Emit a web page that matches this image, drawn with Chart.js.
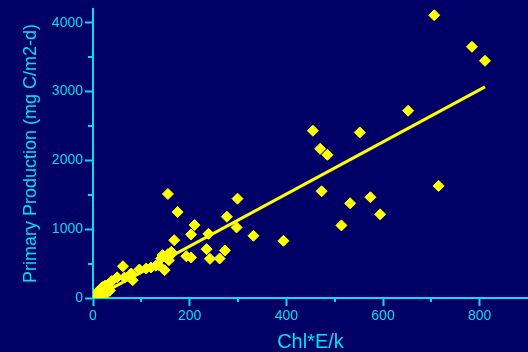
<!DOCTYPE html>
<html>
<head>
<meta charset="utf-8">
<script src="https://cdn.jsdelivr.net/npm/chart.js@4"></script>
<style>
  body { margin: 0; background: #000066; }
  canvas { display: block; }
</style>
</head>
<body>
<canvas id="myChart" width="528" height="352"></canvas>
<script>
// Observed values (Chl*E/k vs primary production)
const chlEk = [
    3, 5, 8, 10, 12, 14, 16, 18, 20, 22, 25, 27, 30, 32, 35, 8, 20, 28,
    39, 50, 62, 65, 79, 82, 96, 110, 120, 130, 135, 141, 144, 148, 150, 155, 157, 160, 162, 168,
    155, 175, 193, 203, 203, 210, 235, 239, 242, 262, 273, 277, 297, 299, 332, 394,
    455, 470, 473, 485, 514, 532, 552, 574, 594, 652, 706, 715, 784, 811
];
const primaryProd = [
    30, 60, 45, 90, 20, 120, 70, 150, 40, 100, 180, 60, 140, 200, 110, 10, 160, 90,
    248, 300, 462, 297, 356, 258, 414, 428, 443, 470, 480, 575, 623, 404, 600, 637, 550, 620, 671, 841,
    1512, 1250, 608, 589, 924, 1060, 710, 933, 569, 574, 691, 1181, 1026, 1444, 904, 831,
    2431, 2168, 1551, 2081, 1055, 1376, 2406, 1464, 1216, 2722, 4109, 1629, 3651, 3447
];

// Regression line end points
const fitX = [5, 811];
const fitY = [13, 3068];

// Axis ticks
const xMajor = [0, 200, 400, 600, 800];
const xMinor = [100, 300, 500, 700];
const yMajor = [0, 1000, 2000, 3000, 4000];
const yMinor = [500, 1500, 2500, 3500];

const cyan = '#00e0f0';
const yellow = '#ffff00';
const fontFamily = '"Liberation Sans", Arial, sans-serif';

const points = chlEk.map((x, i) => ({ x: x, y: primaryProd[i] }));
const fitLine = fitX.map((x, i) => ({ x: x, y: fitY[i] }));

// Short minor tick marks between the labelled ones
const minorTicks = {
    id: 'minorTicks',
    afterDraw(chart) {
        const ctx = chart.ctx;
        const xs = chart.scales.x;
        const ys = chart.scales.y;
        ctx.save();
        ctx.strokeStyle = cyan;
        ctx.lineWidth = 2;
        ctx.beginPath();
        xMinor.forEach(v => {
            const px = Math.round(xs.getPixelForValue(v));
            ctx.moveTo(px, xs.top);
            ctx.lineTo(px, xs.top + 4);
        });
        yMinor.forEach(v => {
            const py = Math.round(ys.getPixelForValue(v));
            ctx.moveTo(ys.right, py);
            ctx.lineTo(ys.right - 5, py);
        });
        ctx.stroke();
        ctx.restore();
    }
};

const ctx = document.getElementById('myChart').getContext('2d');
new Chart(ctx, {
    type: 'scatter',
    data: {
        datasets: [{
            data: points,
            pointStyle: 'rectRot',
            pointRadius: 5.5,
            backgroundColor: yellow,
            borderColor: yellow,
            borderWidth: 1
        }, {
            type: 'line',
            data: fitLine,
            borderColor: yellow,
            borderWidth: 3,
            pointRadius: 0,
            fill: false
        }]
    },
    options: {
        responsive: false,
        animation: false,
        layout: {
            autoPadding: false,
            padding: { top: 9, right: 0, left: 0, bottom: 0 }
        },
        plugins: {
            legend: { display: false },
            tooltip: { enabled: false }
        },
        scales: {
            x: {
                type: 'linear',
                min: 0,
                max: 900,
                afterFit: scale => {
                    scale.height = 54;
                    scale.paddingLeft = 0;
                    scale.paddingRight = 0;
                },
                afterBuildTicks: scale => {
                    scale.ticks = xMajor.map(v => ({ value: v }));
                },
                grid: {
                    drawOnChartArea: false,
                    tickLength: 8,
                    tickWidth: 2,
                    tickColor: cyan
                },
                border: { display: true, color: cyan, width: 2 },
                ticks: {
                    color: cyan,
                    padding: 2,
                    maxRotation: 0,
                    autoSkip: false,
                    callback: value => String(value),
                    font: { family: fontFamily, size: 14 }
                },
                title: {
                    display: true,
                    text: 'Chl*E/k',
                    color: cyan,
                    padding: { top: 0, bottom: 0 },
                    font: { family: fontFamily, size: 20, lineHeight: 1 }
                }
            },
            y: {
                type: 'linear',
                min: 0,
                max: 4200,
                afterFit: scale => {
                    scale.width = 93;
                    scale.paddingTop = 0;
                    scale.paddingBottom = 0;
                },
                afterBuildTicks: scale => {
                    scale.ticks = yMajor.map(v => ({ value: v }));
                },
                grid: {
                    drawOnChartArea: false,
                    tickLength: 8,
                    tickWidth: 2,
                    tickColor: cyan
                },
                border: { display: true, color: cyan, width: 2 },
                ticks: {
                    color: cyan,
                    padding: 2,
                    autoSkip: false,
                    callback: value => String(value),
                    font: { family: fontFamily, size: 14 }
                },
                title: {
                    display: true,
                    text: 'Primary Production (mg C/m2-d)',
                    color: cyan,
                    padding: { top: 20, bottom: 0 },
                    font: { family: fontFamily, size: 18, lineHeight: 1.2 }
                }
            }
        }
    },
    plugins: [minorTicks]
});
</script>
</body>
</html>
